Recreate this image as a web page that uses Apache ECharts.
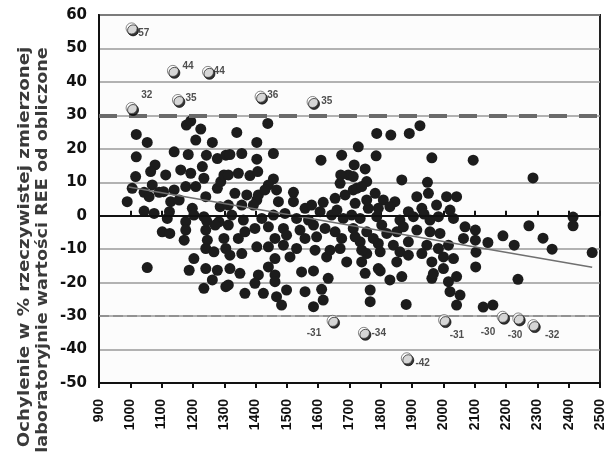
<!DOCTYPE html>
<html><head><meta charset="utf-8">
<script src="https://cdn.jsdelivr.net/npm/echarts@6/dist/echarts.min.js"></script>
<style>html,body{margin:0;padding:0;background:#fff}#c{width:608px;height:453px}</style>
</head><body><div id="c"></div>
<script>
// black dots: [REE measured, deviation %]
const dotsLeft = [[1019,24.3],[1054,21.9],[1019,17.6],[1179,27.1],[1193,28.3],[1225,25.9],[1209,22.6],[1262,21.9],[1140,19.1],[1185,18.3],[1243,18.1],[1278,17.1],[1305,18.1],[1079,15.2],[1065,13.2],[1113,12.2],[1161,13.7],[1193,12.7],[1230,14.7],[1235,11.2],[1017,11.7],[1070,9.2],[1006,8.2],[1044,7.0],[990,4.2],[1092,7.0],[1140,7.7],[1177,8.7],[1209,8.7],[1241,5.7],[1278,8.2],[1289,10.2],[1299,12.2],[1060,5.7],[1129,4.2],[1156,4.7],[1198,2.2],[1044,1.4],[1076,0.7],[1118,-0.8],[1177,-1.8],[1203,0.2],[1235,-0.3],[1283,-1.8],[1102,-4.8],[1126,-5.3],[1177,-4.3],[1172,-7.3],[1241,-4.3],[1246,-7.3],[1299,-6.8],[1241,-9.8],[1267,-10.8],[1305,-9.8],[1054,-15.5],[1203,-12.8],[1188,-16.3],[1241,-15.8],[1278,-16.3],[1262,-19.2],[1235,-21.7],[1305,-21.2],[1125,1.2],[1287,2.7],[1244,-1.6],[1271,-2.8],[1106,7.2],[1404,4.7]];
const dotsMid = [[1439,27.6],[1340,24.9],[1404,21.9],[1318,18.3],[1356,18.6],[1457,18.6],[1404,16.9],[1609,16.6],[1675,18.1],[1313,12.2],[1345,12.7],[1382,12.0],[1407,13.2],[1457,11.0],[1441,9.2],[1467,7.7],[1521,7.0],[1670,9.7],[1696,12.2],[1334,6.7],[1372,6.2],[1409,6.2],[1430,7.7],[1473,4.2],[1521,4.2],[1313,3.2],[1356,3.2],[1393,3.2],[1558,2.2],[1579,3.2],[1616,4.0],[1654,5.2],[1686,6.2],[1712,7.7],[1324,0.2],[1361,-1.3],[1420,-0.8],[1457,0.2],[1494,0.7],[1531,-0.8],[1569,-1.3],[1606,1.2],[1643,0.2],[1680,-0.8],[1707,0.2],[1313,-2.8],[1398,-3.8],[1441,-3.3],[1489,-3.8],[1542,-4.3],[1622,-3.8],[1654,-4.8],[1345,-6.8],[1366,-4.8],[1462,-6.8],[1499,-5.8],[1558,-6.8],[1595,-6.3],[1675,-6.8],[1404,-9.3],[1441,-9.3],[1489,-8.8],[1531,-9.8],[1590,-10.3],[1670,-9.8],[1318,-11.8],[1356,-11.3],[1462,-12.8],[1510,-12.3],[1627,-12.3],[1691,-13.8],[1318,-15.8],[1350,-17.2],[1441,-15.3],[1409,-17.7],[1462,-17.7],[1547,-16.8],[1585,-16.5],[1632,-18.7],[1313,-20.7],[1398,-20.2],[1462,-19.7],[1499,-22.2],[1558,-22.7],[1366,-23.2],[1425,-23.2],[1483,-26.7],[1585,-27.2],[1616,-25.2],[1467,-24.2],[1672,12.2],[1660,1.7],[1585,-2.8],[1638,-10.3],[1611,-22]];
const dotsRight = [[1925,26.9],[1787,24.6],[1832,24.1],[1891,24.6],[1728,20.6],[1785,17.9],[1963,17.3],[2095,16.6],[1715,15.2],[1750,14.0],[1867,10.7],[1949,10.0],[1712,11.7],[1723,8.2],[1755,10.2],[1782,6.7],[1808,4.7],[1845,4.2],[1915,5.7],[1952,6.7],[2010,5.7],[2042,5.7],[1718,3.7],[1760,2.2],[1829,2.7],[1888,1.2],[1931,2.2],[1978,3.2],[2021,1.7],[1734,-0.8],[1787,-0.3],[1861,-1.3],[1904,-0.3],[1957,-1.3],[2032,-0.8],[2069,-3.3],[1712,-3.8],[1755,-4.8],[1819,-5.3],[1851,-4.8],[1915,-4.3],[1989,-5.3],[1734,-7.8],[1792,-8.3],[1840,-8.8],[1888,-7.8],[1947,-8.8],[2016,-8.8],[2064,-6.8],[1755,-11.3],[1798,-10.8],[1861,-10.8],[1931,-11.3],[1984,-9.8],[2032,-12.8],[1739,-13.8],[1851,-13.8],[1963,-13.8],[2000,-15.8],[1750,-17.2],[1798,-16.5],[1867,-18.2],[1963,-18.7],[1829,-19.2],[2016,-19.7],[2042,-18.2],[1766,-22.2],[2021,-22.7],[2053,-23.7],[1766,-25.7],[1881,-26.5],[2042,-26.7],[1739,8.7],[1755,4.7],[1792,2.2],[1938,0.5],[1984,-0.3],[1803,-2.8],[1872,-3.3],[1957,-4.8],[1718,-6.3],[1776,-6.8],[1739,-10.3],[1888,-11.8],[2000,-12.3],[1792,-15.8],[1968,-17.3]];
const dotsFar = [[2286,11.3],[2414,-0.4],[2414,-3],[2273,-3],[2190,-6],[2318,-6.7],[2347,-10],[2475,-11],[2226,-8.8],[2238,-19],[2142,-8],[2102,-4.3],[2102,-7.3],[2104,-10.9],[2103,-15.3],[2127,-27.3],[2158,-26.7]];
// outliers (white) with their labels
const outX = [1004,1004,1136,1248,1152,1416,1582,1646,1746,1883,2002,2189,2239,2287];
const outY = [56,32.2,43.3,43,34.6,35.6,34,-31.4,-35,-42.6,-31.2,-30.2,-30.7,-32.7];
const outText = ['57','32','44','44','35','36','35','-31','-34','-42','-31','-30','-30','-32'];
// regression line end points
const trend = [[995,8.6],[2475,-15.4]];
const xTicks = {min:900, max:2500, step:100};
const yTicks = {min:-50, max:60, step:10};
const yTitle1 = 'Ochylenie w % rzeczywistej zmierzonej';
const yTitle2 = 'laboratoryjnie wartości REE od obliczone';

// label placement (style only)
const labelOffsets = [[7,5,'left'],[10,-12,'left'],[10,-4,'left'],[6,0,'left'],[8,-1,'left'],[7,-1,'left'],[9,0,'left'],[-11,13,'right'],[8,1,'left'],[9,5,'left'],[6,16,'left'],[-7,16,'right'],[-10,17,'left'],[12,11,'left']];
const OS = 11;
const outData = outX.map((x,i)=>({
  value:[x,outY[i]],
  label:{show:true, formatter:outText[i], position:[OS/2+labelOffsets[i][0], OS/2+labelOffsets[i][1]], align:labelOffsets[i][2], verticalAlign:'middle'}
}));

const chart = echarts.init(document.getElementById('c'), null, {renderer:'canvas'});
chart.setOption({
  animation:false,
  backgroundColor:'#ffffff',
  grid:{left:99, right:8, top:15, bottom:70, show:true, backgroundColor:'#fcfcfc', borderColor:'#222', borderWidth:2},
  xAxis:[{
    type:'value', min:xTicks.min, max:xTicks.max, interval:xTicks.step,
    axisLine:{show:true, onZero:false, lineStyle:{color:'#111', width:2}},
    axisTick:{show:true, length:5, lineStyle:{color:'#111', width:2}},
    axisLabel:{rotate:90, margin:16, color:'#111', fontSize:14, fontWeight:'bold', fontFamily:'Liberation Sans', formatter:v=>String(v)},
    splitLine:{show:false}
  },{
    type:'value', min:xTicks.min, max:xTicks.max, interval:xTicks.step, position:'bottom',
    axisLine:{show:false}, axisTick:{show:true, inside:true, length:5, lineStyle:{color:'#111', width:2}},
    axisLabel:{show:false}, splitLine:{show:false}
  }],
  yAxis:{
    type:'value', min:yTicks.min, max:yTicks.max, interval:yTicks.step,
    axisLine:{show:true, onZero:false, lineStyle:{color:'#111', width:2}},
    axisTick:{show:false},
    axisLabel:{margin:12, color:'#111', fontSize:15, fontWeight:'bold', fontFamily:'DejaVu Sans'},
    splitLine:{show:true, lineStyle:{color:'#9a9a9a', width:1.5}}
  },
  graphic:[
    {type:'text', x:25, y:247, rotation:Math.PI/2, scaleX:1.14, style:{text:yTitle1, x:0, y:0, align:'center', verticalAlign:'middle', fill:'#3a3a3a', font:'bold 16px "DejaVu Sans"'}},
    {type:'text', x:43, y:250, rotation:Math.PI/2, scaleX:1.1, style:{text:yTitle2, x:0, y:0, align:'center', verticalAlign:'middle', fill:'#3a3a3a', font:'bold 16px "DejaVu Sans"'}}
  ],
  series:[
    {type:'scatter', data:[], z:1,
      markLine:{silent:true, symbol:'none', label:{show:false},
        data:[
          {yAxis:0, lineStyle:{color:'#111', width:2, type:'solid'}},
          {yAxis:30, lineStyle:{color:'#6a6a6a', width:4, type:[18,12]}},
          {yAxis:-30, lineStyle:{color:'#888', width:1.5, type:[10,4]}}
        ]}},
    {type:'scatter', data:[].concat(dotsLeft,dotsMid,dotsRight,dotsFar), symbolSize:11, z:3,
      itemStyle:{color:'#1c1c1c', opacity:1}},
    {type:'line', data:trend, symbol:'none', z:4, lineStyle:{color:'#707070', width:1.5}},
    {type:'scatter', data:outData, symbolSize:OS, z:5,
      itemStyle:{color:'#ffffff', borderColor:'#444', borderWidth:0.8, shadowColor:'#000', shadowOffsetX:1.5, shadowOffsetY:2, shadowBlur:0},
      label:{color:'#222', fontSize:10, fontFamily:'Liberation Sans', fontWeight:'bold'}}
  ]
});
</script></body></html>
